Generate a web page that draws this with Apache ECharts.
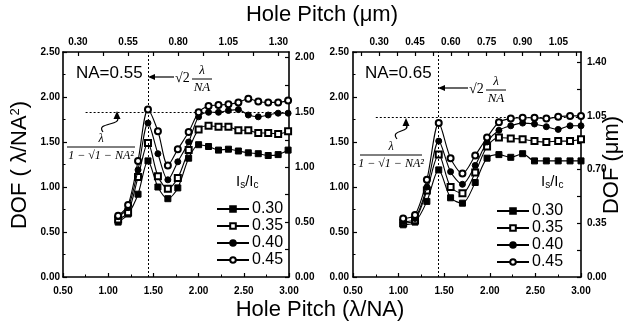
<!DOCTYPE html>
<html>
<head>
<meta charset="utf-8">
<script src="https://cdn.jsdelivr.net/npm/echarts@6/dist/echarts.min.js"></script>
<style>
  html, body { margin: 0; padding: 0; background: #fff; }
  #chart { width: 631px; height: 327px; }
</style>
</head>
<body>
<div id="chart"></div>
<script>
// hole pitch in lambda/NA (one point per 0.05 um of pitch)
const pitchNA055 = [1.11, 1.22, 1.33, 1.44, 1.55, 1.66, 1.77, 1.89, 2.00, 2.11, 2.22, 2.33, 2.44, 2.55, 2.66, 2.77, 2.88, 2.99];
const dofNA055_030 = [0.61, 0.70, 0.92, 1.29, 1.00, 0.87, 0.99, 1.32, 1.47, 1.45, 1.41, 1.42, 1.40, 1.38, 1.37, 1.35, 1.36, 1.41];
const dofNA055_035 = [0.64, 0.72, 1.11, 1.49, 1.12, 0.98, 1.10, 1.41, 1.64, 1.68, 1.67, 1.67, 1.63, 1.63, 1.60, 1.60, 1.59, 1.62];
const dofNA055_040 = [0.67, 0.77, 1.19, 1.71, 1.37, 1.08, 1.28, 1.50, 1.78, 1.83, 1.83, 1.85, 1.86, 1.80, 1.78, 1.80, 1.82, 1.82];
const dofNA055_045 = [0.68, 0.80, 1.29, 1.86, 1.62, 1.24, 1.42, 1.61, 1.83, 1.90, 1.91, 1.92, 1.94, 1.98, 1.95, 1.94, 1.94, 1.96];

const pitchNA065 = [1.05, 1.18, 1.31, 1.44, 1.57, 1.70, 1.84, 1.97, 2.10, 2.23, 2.36, 2.49, 2.62, 2.75, 2.88, 3.00];
const dofNA065_030 = [0.58, 0.61, 0.84, 1.19, 0.88, 0.82, 1.05, 1.32, 1.36, 1.33, 1.37, 1.29, 1.29, 1.29, 1.29, 1.29];
const dofNA065_035 = [0.60, 0.63, 0.96, 1.36, 1.00, 0.93, 1.16, 1.45, 1.55, 1.54, 1.53, 1.51, 1.50, 1.51, 1.51, 1.53];
const dofNA065_040 = [0.61, 0.65, 1.00, 1.51, 1.17, 1.03, 1.24, 1.50, 1.63, 1.68, 1.71, 1.70, 1.67, 1.64, 1.68, 1.68];
const dofNA065_045 = [0.65, 0.69, 1.08, 1.71, 1.32, 1.15, 1.35, 1.55, 1.72, 1.76, 1.77, 1.77, 1.76, 1.78, 1.79, 1.79];

const ratioNames = ["0.30", "0.35", "0.40", "0.45"];
const ratioSymbols = ["rect", "emptyRect", "circle", "emptyCircle"];

// secondary axis labels (um)
const topTicksNA055 = [0.30, 0.55, 0.80, 1.05, 1.30];
const topTicksNA065 = [0.30, 0.45, 0.60, 0.75, 0.90, 1.05];
const rightTicksNA055 = [0.00, 0.50, 1.00, 1.50, 2.00];
const rightTicksNA065 = [0.00, 0.35, 0.70, 1.05, 1.40];

// guide lines: sqrt(2) pitch and lambda/(1-sqrt(1-NA^2)) level
const peakPitch = 1.44;
const levelNA055 = 1.83;
const levelNA065 = 1.77;

const LAMBDA = 0.248; // um
const SANS = "Liberation Sans, Arial, sans-serif";
const SERIF = "Liberation Serif, Times New Roman, serif";

function withMinor(ticks, max) {
  const step = ticks[1] - ticks[0];
  const out = ticks.slice();
  ticks.forEach((t) => {
    if (t + step / 2 <= max) out.push(t + step / 2);
  });
  if (ticks[0] - step / 2 > 0) out.push(ticks[0] - step / 2);
  return out;
}

const labelStyle = {
  color: "#000",
  fontSize: 10,
  fontWeight: "bold",
  fontFamily: SANS,
  formatter: (v) => Number(v).toFixed(2),
};
const lineStyleAxis = { show: true, onZero: false, lineStyle: { color: "#000", width: 1.6 } };

function panelAxes(gridIndex, na, topTicks, rightTicks) {
  const pitchUm = LAMBDA / na;
  const dofUm = LAMBDA / (na * na);
  const topMin = 0.5 * pitchUm;
  const topMax = 3.0 * pitchUm;
  const rightMax = 2.5 * dofUm;
  const x = [
    {
      gridIndex,
      type: "value",
      position: "bottom",
      min: 0.5,
      max: 3.0,
      interval: 0.5,
      axisLine: lineStyleAxis,
      axisTick: { inside: true, length: 4, lineStyle: { color: "#000", width: 1.2 } },
      minorTick: { show: true, splitNumber: 2, length: 2.5, lineStyle: { color: "#000", width: 1 } },
      axisLabel: { ...labelStyle, margin: 9 },
      splitLine: { show: false },
    },
    {
      gridIndex,
      type: "value",
      position: "top",
      min: topMin,
      max: topMax,
      axisLine: lineStyleAxis,
      axisTick: {
        inside: true,
        length: 4,
        lineStyle: { color: "#000", width: 1.2 },
        customValues: withMinor(topTicks, topMax),
      },
      axisLabel: { ...labelStyle, margin: 5, customValues: topTicks },
      splitLine: { show: false },
    },
  ];
  const y = [
    {
      gridIndex,
      type: "value",
      position: "left",
      min: 0,
      max: 2.5,
      interval: 0.5,
      axisLine: lineStyleAxis,
      axisTick: { inside: true, length: 4, lineStyle: { color: "#000", width: 1.2 } },
      minorTick: { show: true, splitNumber: 2, length: 2.5, lineStyle: { color: "#000", width: 1 } },
      axisLabel: { ...labelStyle, margin: gridIndex === 0 ? 3 : 4 },
      splitLine: { show: false },
    },
    {
      gridIndex,
      type: "value",
      position: "right",
      min: 0,
      max: rightMax,
      axisLine: lineStyleAxis,
      axisTick: {
        inside: true,
        length: 4,
        lineStyle: { color: "#000", width: 1.2 },
        customValues: withMinor(rightTicks, rightMax),
      },
      axisLabel: { ...labelStyle, margin: 6, customValues: rightTicks },
      splitLine: { show: false },
    },
  ];
  return { x, y };
}

function panelSeries(axisBase, pitch, curves, level) {
  return curves.map((vals, i) => {
    const s = {
      name: ratioNames[i],
      type: "line",
      xAxisIndex: axisBase,
      yAxisIndex: axisBase,
      data: pitch.map((p, k) => [p, vals[k]]),
      smooth: 0.3,
      symbol: ratioSymbols[i],
      symbolSize: 6,
      showAllSymbol: true,
      clip: false,
      lineStyle: { color: "#000", width: 1.1 },
      itemStyle: { color: "#000", borderColor: "#000", borderWidth: 1 },
      z: 3 + i,
    };
    if (i === 3) {
      s.markLine = {
        silent: true,
        symbol: "none",
        animation: false,
        label: { show: false },
        lineStyle: { color: "#000", type: [2, 2], width: 1 },
        data: [
          { xAxis: peakPitch },
          [{ coord: [0.75, level] }, { coord: [3.0, level] }],
        ],
      };
    }
    return s;
  });
}

function fraction(cx, top, num, den, barHalf, fs) {
  return [
    { type: "text", x: cx, y: top, style: { text: num, fill: "#000", font: `italic ${fs}px ${SERIF}`, align: "center", verticalAlign: "middle" } },
    { type: "line", shape: { x1: cx - barHalf, y1: top + 8, x2: cx + barHalf, y2: top + 8 }, style: { stroke: "#000", lineWidth: 1 } },
    { type: "text", x: cx, y: top + 17, style: { text: den, fill: "#000", font: `italic ${fs}px ${SERIF}`, align: "center", verticalAlign: "middle" } },
  ];
}

function sqrtLabel(ax, y, tail) {
  // arrow pointing left at the dotted vertical line, then sqrt(2) lambda/NA
  return [
    { type: "line", shape: { x1: tail, y1: y, x2: ax + 2, y2: y }, style: { stroke: "#000", lineWidth: 1.2 } },
    { type: "polygon", shape: { points: [[ax, y], [ax + 7, y - 3], [ax + 7, y + 3]] }, style: { fill: "#000" } },
    { type: "text", x: tail + 1, y: y + 1, style: { text: "√2", fill: "#000", font: `14px ${SERIF}`, verticalAlign: "middle" } },
    ...fraction(tail + 28, y - 6, "λ", "NA", 10, 13),
  ];
}

function curlyArrow(x0, y0, x1, y1) {
  return [
    {
      type: "bezierCurve",
      shape: { x1: x0, y1: y0, cpx1: x0 - 8, cpy1: y0 - 10, cpx2: x1 + 6, cpy2: y1 + 12, x2: x1, y2: y1 + 3 },
      style: { stroke: "#000", lineWidth: 1.2, fill: null },
    },
    { type: "polygon", shape: { points: [[x1, y1 - 3], [x1 - 3.5, y1 + 5], [x1 + 3.5, y1 + 5]] }, style: { fill: "#000" } },
  ];
}

function ratioTitle(x, y) {
  return {
    type: "text",
    x,
    y,
    style: {
      text: "{m|I}{s|s}{m|/I}{s|c}",
      verticalAlign: "middle",
      rich: {
        m: { fontSize: 15, fontFamily: SANS, fill: "#000", lineHeight: 16 },
        s: { fontSize: 10, fontFamily: SANS, fill: "#000", padding: [7, 0, 0, 0] },
      },
    },
  };
}

const axesL = panelAxes(0, 0.55, topTicksNA055, rightTicksNA055);
const axesR = panelAxes(1, 0.65, topTicksNA065, rightTicksNA065);

const titleFont = { fill: "#000", fontSize: 22, fontFamily: SANS };
const legendText = { color: "#000", fontSize: 16, fontFamily: SANS, lineHeight: 15, padding: [0, 0, 0, -2] };

const option = {
  animation: false,
  backgroundColor: "#fff",
  grid: [
    { left: 63, right: 342, top: 52, bottom: 50 },
    { left: 353, right: 50, top: 52, bottom: 50 },
  ],
  xAxis: [...axesL.x, ...axesR.x],
  yAxis: [...axesL.y, ...axesR.y],
  legend: [
    {
      data: ratioNames,
      orient: "vertical",
      left: 211,
      top: 196,
      itemWidth: 32,
      itemHeight: 7,
      itemGap: 1,
      selectedMode: false,
      textStyle: legendText,
    },
    {
      data: ratioNames,
      orient: "vertical",
      left: 491,
      top: 198,
      itemWidth: 32,
      itemHeight: 7,
      itemGap: 1,
      selectedMode: false,
      textStyle: legendText,
    },
  ],
  series: [
    ...panelSeries(0, pitchNA055, [dofNA055_030, dofNA055_035, dofNA055_040, dofNA055_045], levelNA055),
    ...panelSeries(2, pitchNA065, [dofNA065_030, dofNA065_035, dofNA065_040, dofNA065_045], levelNA065),
  ],
  graphic: [
    { type: "text", x: 322, y: 15, style: { text: "Hole Pitch (μm)", ...titleFont, align: "center", verticalAlign: "middle" } },
    { type: "text", x: 320, y: 310, style: { text: "Hole Pitch (λ/NA)", ...titleFont, align: "center", verticalAlign: "middle" } },
    {
      type: "text",
      x: 20,
      y: 165,
      rotation: Math.PI / 2,
      style: {
        text: "{t|DOF ( λ/NA}{p|2}{t|)}",
        align: "center",
        verticalAlign: "middle",
        rich: {
          t: { fontSize: 22, fontFamily: SANS, fill: "#000" },
          p: { fontSize: 13, fontFamily: SANS, fill: "#000", padding: [0, 0, 10, 0] },
        },
      },
    },
    { type: "text", x: 612, y: 165, rotation: Math.PI / 2, style: { text: "DOF (μm)", ...titleFont, align: "center", verticalAlign: "middle" } },
    { type: "text", x: 76, y: 73, style: { text: "NA=0.55", fill: "#000", fontSize: 17, fontFamily: SANS, verticalAlign: "middle" } },
    { type: "text", x: 365, y: 73, style: { text: "NA=0.65", fill: "#000", fontSize: 17, fontFamily: SANS, verticalAlign: "middle" } },
    ...sqrtLabel(148, 77, 174),
    ...sqrtLabel(438, 88, 468),
    ...fraction(101, 139, "λ", "1 − √1 − NA²", 34, 12),
    ...fraction(391, 147, "λ", "1 − √1 − NA²", 31, 12),
    ...curlyArrow(103, 132, 117, 114),
    ...curlyArrow(397, 139, 406, 121),
    ratioTitle(236, 182),
    ratioTitle(541, 182),
  ],
};

const chart = echarts.init(document.getElementById("chart"), null, { renderer: "canvas" });
chart.setOption(option);
</script>
</body>
</html>
